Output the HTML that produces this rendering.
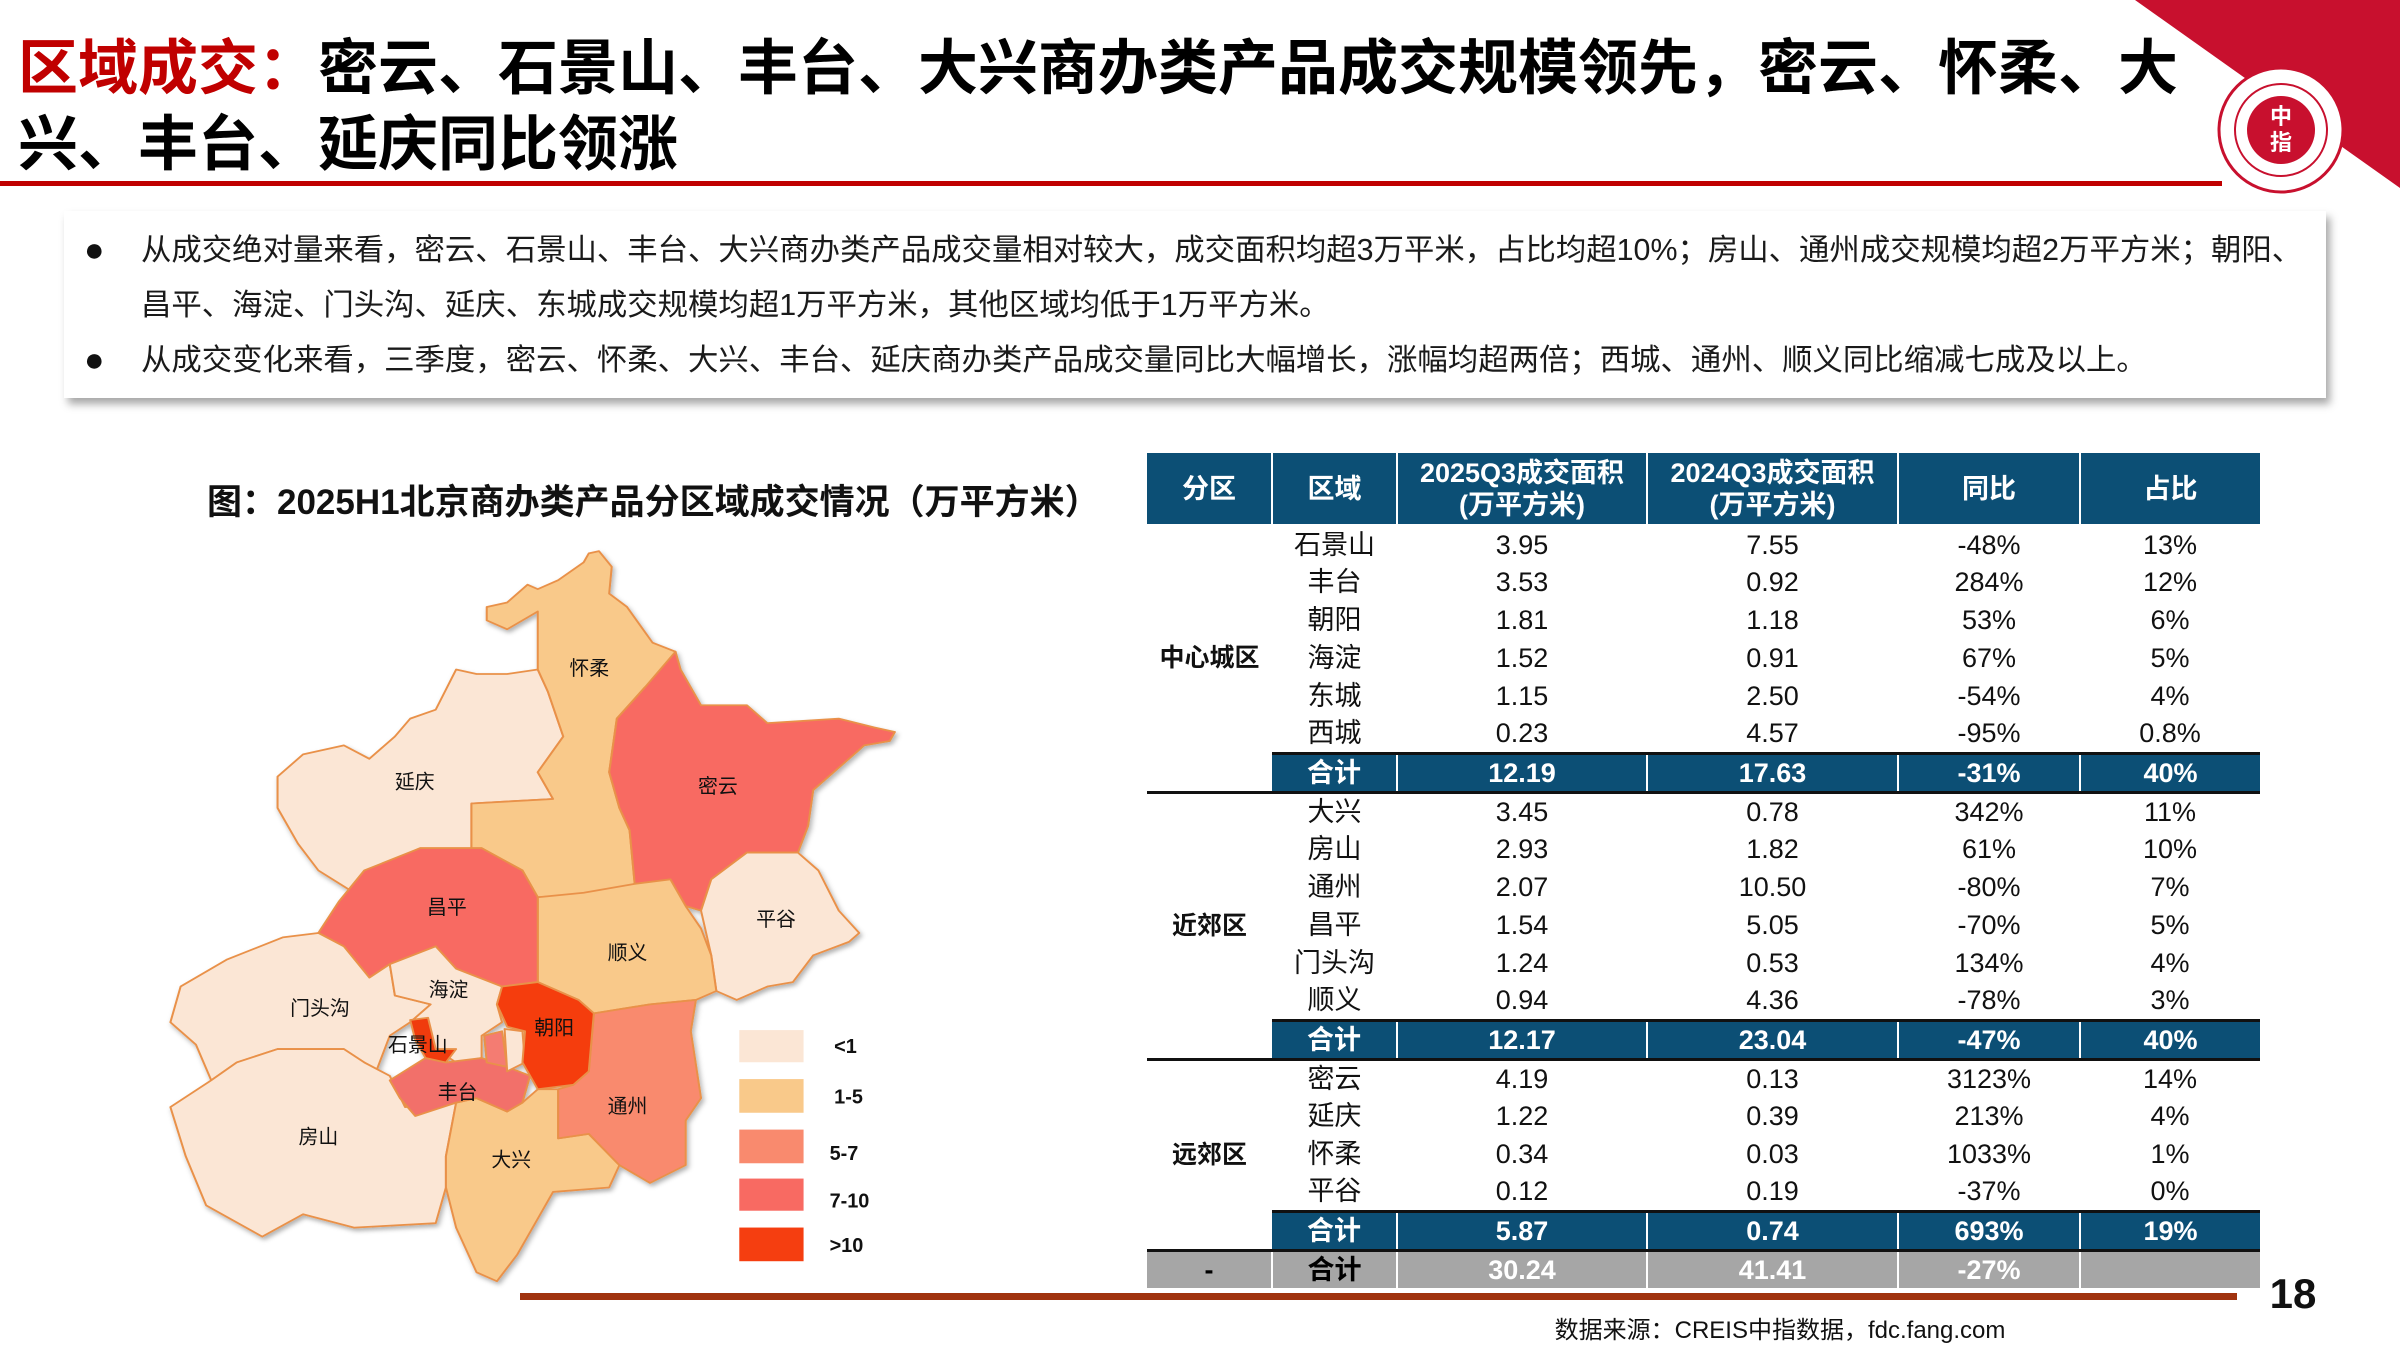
<!DOCTYPE html>
<html><head><meta charset="utf-8">
<style>
*{margin:0;padding:0;box-sizing:border-box}
body{width:2400px;height:1350px;position:relative;background:#fff;overflow:hidden;font-family:"Liberation Sans","Noto Sans CJK SC",sans-serif;color:#111}
.abs{position:absolute}
.title{left:18px;top:31px;font-size:60px;line-height:76px;font-weight:bold;white-space:nowrap;color:#000}
.title .r{color:#c00000}
.box{left:64px;top:211px;width:2262px;height:187px;background:#fff;box-shadow:4px 6px 8px rgba(0,0,0,0.35)}
.bl{position:absolute;left:77px;font-size:30.4px;white-space:nowrap;color:#1a1a1a;line-height:40px}
.dot{position:absolute;left:20px;font-size:34px;line-height:40px}
table{position:absolute;left:1147px;top:453px;width:1113px;border-collapse:collapse;table-layout:fixed;font-size:27px}
td{text-align:center;height:38px;padding:0;line-height:36px;white-space:nowrap}
th{background:#0c4f75;color:#fff;font-weight:bold;height:72px;font-size:27px;line-height:32px;border-left:2px solid #fff;border-bottom:2px solid #fff}
th:first-child{border-left:none}
tr.s td{background:#0c4f75;color:#fff;font-weight:bold;border-left:2px solid #fff;border-top:3px solid #111;border-bottom:3px solid #111}
tr.s td:first-child{border-left:none}
tr.t td{background:#a6a6a6;color:#fff;font-weight:bold;border-left:2px solid #fff}
tr.t td:first-child{border-left:none;color:#000}
tr.t td:nth-child(2){color:#000}
td.g{font-weight:bold;font-size:25px;border-bottom:3px solid #111;background:#fff}
</style></head><body>

<svg class="abs" style="left:0;top:0" width="2400" height="1350">
<polygon points="2135,0 2400,0 2400,188" fill="#c8102e"/>
<circle cx="2281" cy="130" r="62" fill="#fff" stroke="#c8102e" stroke-width="3"/>
<circle cx="2281" cy="130" r="46" fill="#fff" stroke="#c8102e" stroke-width="2"/>
<circle cx="2281" cy="130" r="34" fill="#c8102e"/>
<text x="2281" y="124" font-size="22" fill="#fff" text-anchor="middle" font-family="Liberation Sans,Noto Sans CJK SC,sans-serif" font-weight="bold">中</text>
<text x="2281" y="150" font-size="22" fill="#fff" text-anchor="middle" font-family="Liberation Sans,Noto Sans CJK SC,sans-serif" font-weight="bold">指</text>
<rect x="0" y="181" width="2222" height="5" fill="#c00000"/>
<rect x="520" y="1293" width="1717" height="7" fill="#a0330f"/>
</svg>

<div class="abs title"><span class="r">区域成交：</span>密云、石景山、丰台、大兴商办类产品成交规模领先，密云、怀柔、大<br>兴、丰台、延庆同比领涨</div>

<div class="abs box">
<div class="dot" style="top:19px">●</div>
<div class="bl" style="top:19px">从成交绝对量来看，密云、石景山、丰台、大兴商办类产品成交量相对较大，成交面积均超3万平米，占比均超10%；房山、通州成交规模均超2万平方米；朝阳、</div>
<div class="bl" style="top:74px">昌平、海淀、门头沟、延庆、东城成交规模均超1万平方米，其他区域均低于1万平方米。</div>
<div class="dot" style="top:129px">●</div>
<div class="bl" style="top:129px">从成交变化来看，三季度，密云、怀柔、大兴、丰台、延庆商办类产品成交量同比大幅增长，涨幅均超两倍；西城、通州、顺义同比缩减七成及以上。</div>
</div>

<div class="abs" style="left:207px;top:474px;font-size:35px;font-weight:bold;white-space:nowrap">图：2025H1北京商办类产品分区域成交情况（万平方米）</div>

<svg class="abs" style="left:150px;top:540px" width="800" height="760" viewBox="0 0 1568 1702" preserveAspectRatio="none">
<defs><filter id="sh"><feDropShadow dx="4" dy="6" stdDeviation="5" flood-opacity="0.3"/></filter></defs>
<g stroke="#e9914a" stroke-width="4" stroke-linejoin="round" filter="url(#sh)">
<polygon fill="#fbe6d5" points="250,530 300,480 380,460 430,490 480,440 510,400 560,380 600,290 640,300 700,300 760,290 780,340 810,440 760,520 790,580 630,590 630,690 530,690 430,740 400,790 330,740 290,680 250,600"/>
<polygon fill="#f9c98a" points="660,150 700,140 740,100 760,110 800,90 850,50 860,30 880,25 905,60 900,120 935,150 985,230 1030,250 1030,290 970,330 915,400 900,520 920,600 940,650 950,770 900,790 760,800 730,740 650,690 630,690 630,590 790,580 760,520 810,440 780,340 760,290 760,160 700,200 660,180"/>
<polygon fill="#f86a62" points="1030,250 1040,290 1080,370 1170,370 1210,410 1350,400 1420,420 1460,430 1450,450 1400,460 1360,500 1300,560 1290,640 1270,700 1170,700 1100,760 1080,830 1050,820 1020,760 950,770 940,650 920,600 900,520 915,400 970,330"/>
<polygon fill="#fbe6d5" points="1080,830 1100,760 1170,700 1270,700 1310,740 1350,830 1390,880 1370,900 1300,930 1260,990 1210,1000 1150,1030 1110,1010 1100,930"/>
<polygon fill="#f9c98a" points="760,800 850,790 950,770 1020,760 1050,820 1080,870 1100,930 1110,1010 1070,1030 980,1040 870,1060 840,1030 760,990"/>
<polygon fill="#f86a62" points="330,880 370,810 420,740 530,690 650,690 730,740 760,800 760,990 690,1000 600,960 560,910 470,950 430,980 380,910"/>
<polygon fill="#fbe6d5" points="40,1080 60,1000 150,940 260,890 330,880 380,910 430,980 470,950 480,1020 550,1040 510,1080 470,1110 440,1200 420,1170 380,1140 250,1140 170,1170 120,1210 90,1130"/>
<polygon fill="#fbe6d5" points="40,1270 120,1210 170,1170 250,1140 380,1140 420,1170 470,1200 500,1270 600,1260 580,1380 580,1450 560,1530 400,1540 300,1510 220,1560 110,1490 70,1380"/>
<polygon fill="#f9c98a" points="600,1260 640,1250 700,1280 730,1260 760,1230 800,1230 800,1340 860,1330 920,1400 900,1450 790,1460 760,1520 720,1600 680,1660 640,1640 600,1540 580,1450 580,1380"/>
<polygon fill="#f98a6e" points="870,1060 980,1040 1070,1030 1060,1100 1080,1250 1050,1300 1050,1400 980,1440 920,1400 860,1330 800,1340 800,1230 830,1220 860,1190"/>
<polygon fill="#fbe6d5" points="470,950 560,910 600,960 690,1000 680,1040 690,1080 650,1110 650,1160 600,1170 560,1140 540,1100 510,1080 550,1040 480,1020"/>
<polygon fill="#f2706a" points="470,1210 540,1160 580,1170 650,1160 700,1180 745,1200 730,1260 700,1280 640,1250 600,1260 520,1290 490,1250"/>
<polygon fill="#f03a10" points="510,1075 545,1070 560,1140 600,1140 580,1170 540,1160 520,1120"/>
<polygon fill="#f47c72" points="655,1110 690,1100 700,1180 660,1170"/>
<polygon fill="#fbe6d5" points="695,1095 730,1100 735,1170 700,1190"/>
<polygon fill="#f53e10" points="690,1000 760,990 840,1030 870,1060 860,1190 830,1220 760,1230 745,1200 730,1170 735,1100 700,1090 680,1040"/>
</g>
</svg>

<svg class="abs" style="left:0;top:0" width="2400" height="1350" viewBox="0 0 1568 882">
<g font-family="Liberation Sans,Noto Sans CJK SC,sans-serif" font-size="13" text-anchor="middle" fill="#111">
<text x="385" y="441">怀柔</text><text x="271" y="515">延庆</text><text x="469" y="518">密云</text>
<text x="292" y="597">昌平</text><text x="507" y="605">平谷</text><text x="410" y="627">顺义</text>
<text x="209" y="663">门头沟</text><text x="293" y="651">海淀</text><text x="362" y="676">朝阳</text>
<text x="273" y="687">石景山</text><text x="299" y="718">丰台</text><text x="410" y="727">通州</text>
<text x="208" y="747">房山</text><text x="334" y="762">大兴</text>
</g>
<rect x="483" y="673" width="42" height="21" fill="#fbe6d5"/>
<rect x="483" y="705" width="42" height="22" fill="#f9c98a"/>
<rect x="483" y="738" width="42" height="22" fill="#f98a6e"/>
<rect x="483" y="770" width="42" height="21" fill="#f86a62"/>
<rect x="483" y="802" width="42" height="22" fill="#f53e10"/>
<g font-family="Liberation Sans,sans-serif" font-size="13" font-weight="bold" fill="#111">
<text x="545" y="688">&lt;1</text><text x="545" y="721">1-5</text><text x="542" y="758">5-7</text>
<text x="542" y="789">7-10</text><text x="542" y="818">&gt;10</text>
</g>
</svg>

<table>
<colgroup><col style="width:125px"><col style="width:125px"><col style="width:250px"><col style="width:251px"><col style="width:182px"><col style="width:180px"></colgroup>
<tr><th>分区</th><th>区域</th><th>2025Q3成交面积<br>(万平方米)</th><th>2024Q3成交面积<br>(万平方米)</th><th>同比</th><th>占比</th></tr>
<tr><td rowspan="7" class="g">中心城区</td><td>石景山</td><td>3.95</td><td>7.55</td><td>-48%</td><td>13%</td></tr>
<tr><td>丰台</td><td>3.53</td><td>0.92</td><td>284%</td><td>12%</td></tr>
<tr><td>朝阳</td><td>1.81</td><td>1.18</td><td>53%</td><td>6%</td></tr>
<tr><td>海淀</td><td>1.52</td><td>0.91</td><td>67%</td><td>5%</td></tr>
<tr><td>东城</td><td>1.15</td><td>2.50</td><td>-54%</td><td>4%</td></tr>
<tr><td>西城</td><td>0.23</td><td>4.57</td><td>-95%</td><td>0.8%</td></tr>
<tr class="s"><td>合计</td><td>12.19</td><td>17.63</td><td>-31%</td><td>40%</td></tr>
<tr><td rowspan="7" class="g">近郊区</td><td>大兴</td><td>3.45</td><td>0.78</td><td>342%</td><td>11%</td></tr>
<tr><td>房山</td><td>2.93</td><td>1.82</td><td>61%</td><td>10%</td></tr>
<tr><td>通州</td><td>2.07</td><td>10.50</td><td>-80%</td><td>7%</td></tr>
<tr><td>昌平</td><td>1.54</td><td>5.05</td><td>-70%</td><td>5%</td></tr>
<tr><td>门头沟</td><td>1.24</td><td>0.53</td><td>134%</td><td>4%</td></tr>
<tr><td>顺义</td><td>0.94</td><td>4.36</td><td>-78%</td><td>3%</td></tr>
<tr class="s"><td>合计</td><td>12.17</td><td>23.04</td><td>-47%</td><td>40%</td></tr>
<tr><td rowspan="5" class="g">远郊区</td><td>密云</td><td>4.19</td><td>0.13</td><td>3123%</td><td>14%</td></tr>
<tr><td>延庆</td><td>1.22</td><td>0.39</td><td>213%</td><td>4%</td></tr>
<tr><td>怀柔</td><td>0.34</td><td>0.03</td><td>1033%</td><td>1%</td></tr>
<tr><td>平谷</td><td>0.12</td><td>0.19</td><td>-37%</td><td>0%</td></tr>
<tr class="s"><td>合计</td><td>5.87</td><td>0.74</td><td>693%</td><td>19%</td></tr>
<tr class="t"><td>-</td><td>合计</td><td>30.24</td><td>41.41</td><td>-27%</td><td></td></tr>
</table>

<div class="abs" style="left:2265px;top:1270px;font-size:42px;font-weight:bold;width:56px;text-align:center">18</div>
<div class="abs" style="left:1500px;top:1310px;width:560px;text-align:center;font-size:24px;white-space:nowrap">数据来源：CREIS中指数据，fdc.fang.com</div>
</body></html>
